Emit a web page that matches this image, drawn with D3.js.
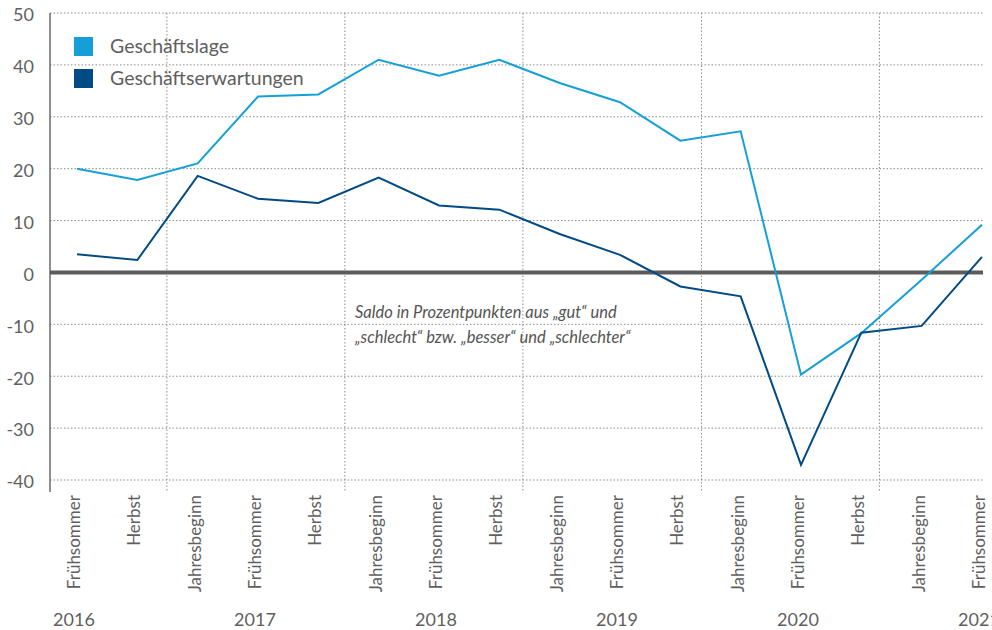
<!DOCTYPE html>
<html>
<head>
<meta charset="utf-8">
<script src="https://cdn.jsdelivr.net/npm/d3@7"></script>
<style>
  body { margin: 0; background: #fff; }
  svg { display: block; font-family: Lato, "Open Sans", sans-serif; }
</style>
</head>
<body>
<svg width="992" height="630"></svg>
<script>
const seasons = ['Frühsommer', 'Herbst',
  'Jahresbeginn', 'Frühsommer', 'Herbst',
  'Jahresbeginn', 'Frühsommer', 'Herbst',
  'Jahresbeginn', 'Frühsommer', 'Herbst',
  'Jahresbeginn', 'Frühsommer', 'Herbst',
  'Jahresbeginn', 'Frühsommer'];
const years = ['2016', '2017', '2018', '2019', '2020', '2021'];
// index of the Frühsommer survey under which each year label sits
const yearAt = [0, 3, 6, 9, 12, 15];
// year dividers, in survey-index units
const dividers = [1.49, 4.44, 7.39, 10.35, 13.3];

const lage = [20, 17.8, 21, 33.9, 34.3, 41, 37.9, 41, 36.5, 32.8, 25.4, 27.2, -19.7, -11.7, -1.4, 9.2];
const erwartungen = [3.5, 2.4, 18.6, 14.2, 13.4, 18.3, 12.9, 12.1, 7.4, 3.4, -2.7, -4.6, -37.1, -11.6, -10.3, 3];

const yTicks = [50, 40, 30, 20, 10, 0, -10, -20, -30, -40];

const series = [
  { name: 'Geschäftslage', values: lage, color: '#14a0d7' },
  { name: 'Geschäftserwartungen', values: erwartungen, color: '#004a85' }
];

const svg = d3.select('svg');
const left = 50;
const right = 984;

const x = d3.scaleLinear().domain([0, 15]).range([77, 982]);
const y = d3.scaleLinear().domain([-40, 50]).range([480, 13]);

// horizontal grid
svg.append('g')
  .selectAll('line')
  .data(yTicks.filter(d => d !== 0))
  .join('line')
  .attr('x1', left)
  .attr('x2', right)
  .attr('y1', d => y(d))
  .attr('y2', d => y(d))
  .attr('stroke', '#8a8a8a')
  .attr('stroke-width', 1)
  .attr('stroke-dasharray', '1.5,2');

// year dividers
svg.append('g')
  .selectAll('line')
  .data(dividers)
  .join('line')
  .attr('x1', d => x(d))
  .attr('x2', d => x(d))
  .attr('y1', y(50))
  .attr('y2', 492)
  .attr('stroke', '#8a8a8a')
  .attr('stroke-width', 1)
  .attr('stroke-dasharray', '1.5,2');

// y axis labels
svg.append('g')
  .selectAll('text')
  .data(yTicks)
  .join('text')
  .attr('x', 34)
  .attr('y', d => y(d) + 2)
  .attr('dy', '0.35em')
  .attr('text-anchor', 'end')
  .attr('font-size', 18)
  .attr('fill', '#5f5f5f')
  .text(d => d);

// y axis line
svg.append('line')
  .attr('x1', left).attr('x2', left)
  .attr('y1', y(50)).attr('y2', 492)
  .attr('stroke', '#6a6a6a')
  .attr('stroke-width', 1.5);

// zero line
svg.append('line')
  .attr('x1', left).attr('x2', 983)
  .attr('y1', y(0)).attr('y2', y(0))
  .attr('stroke', '#5c5c5c')
  .attr('stroke-width', 4);

// lines
const line = d3.line()
  .x((d, i) => x(i))
  .y(d => y(d));

svg.append('g')
  .selectAll('path')
  .data(series)
  .join('path')
  .attr('d', d => line(d.values))
  .attr('fill', 'none')
  .attr('stroke', d => d.color)
  .attr('stroke-width', 2)
  .attr('stroke-linejoin', 'miter');

// x labels (rotated)
svg.append('g')
  .selectAll('text')
  .data(seasons)
  .join('text')
  .attr('transform', (d, i) => `translate(${x(i) - 3},495) rotate(-90)`)
  .attr('text-anchor', 'end')
  .attr('dy', '0.35em')
  .attr('font-size', 17)
  .attr('fill', '#5f5f5f')
  .text(d => d);

// year labels
svg.append('g')
  .selectAll('text')
  .data(years)
  .join('text')
  .attr('x', (d, i) => x(yearAt[i]) - 3)
  .attr('y', 626)
  .attr('text-anchor', 'middle')
  .attr('font-size', 18)
  .attr('fill', '#5f5f5f')
  .text(d => d);

// legend
const legend = svg.append('g')
  .selectAll('g')
  .data(series)
  .join('g')
  .attr('transform', (d, i) => `translate(74,${37 + i * 32})`);
legend.append('rect')
  .attr('width', 19)
  .attr('height', 19)
  .attr('fill', d => d.color);
legend.append('text')
  .attr('x', 36)
  .attr('y', 16)
  .attr('font-size', 19.5)
  .attr('fill', '#606060')
  .text(d => d.name);

// note
const note = svg.append('text')
  .attr('x', 355)
  .attr('font-size', 16.5)
  .attr('font-style', 'italic')
  .attr('fill', '#555');
note.append('tspan').attr('x', 355).attr('y', 318)
  .text('Saldo in Prozentpunkten aus „gut“ und');
note.append('tspan').attr('x', 355).attr('y', 343)
  .text('„schlecht“ bzw. „besser“ und „schlechter“');
</script>
</body>
</html>
